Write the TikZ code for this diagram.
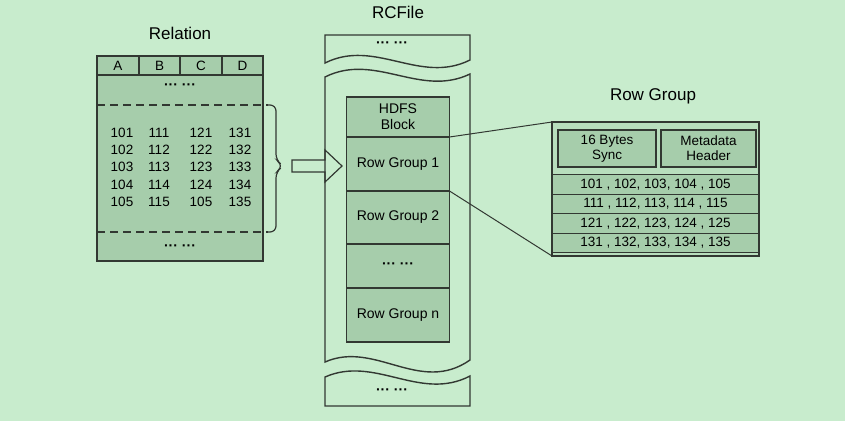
\documentclass[tikz,border=0pt]{standalone}
\usepackage{xcolor}
\usepackage{tikz}
\usepackage{fontspec}
\setmainfont{Liberation Sans}
\usetikzlibrary{positioning}
\definecolor{bggreen}{RGB}{200,236,205}
\definecolor{cellgreen}{RGB}{166,205,171}
\definecolor{panelgreen}{RGB}{184,222,189}
\definecolor{edgegrey}{RGB}{50,56,50}
\newcommand{\rctitle}{\fontsize{17}{20}\selectfont}
\newcommand{\rclabel}{\fontsize{14}{16}\selectfont}
\newcommand{\rcnum}{\fontsize{13.5}{15}\selectfont}

\begin{document}
\begin{tikzpicture}[x=1pt,y=-1pt,
    every node/.style={inner sep=0pt, outer sep=0pt},
    tbl/.style={draw=edgegrey, fill=cellgreen, line width=1.3pt},
    cellbox/.style={draw=edgegrey, fill=cellgreen, line width=1.3pt, minimum width=103pt, align=center, font=\rclabel},
    piece/.style={draw=edgegrey, line width=1.4pt},
    cut/.style={draw=edgegrey, line width=1.4pt, dash pattern=on 8pt off 5pt},
    link/.style={draw=edgegrey, line width=1pt},
    dots/.style={font=\rclabel\bfseries}]
\fill[bggreen] (0,0) rectangle (845,421);
\useasboundingbox (0,0) rectangle (845,421);

% Relation
\node[font=\rctitle] (reltitle) at (180,33) {Relation};
\node[tbl, minimum width=166pt, minimum height=205pt] (rel) at (180,158.5) {};
\draw[tbl] (97,56) rectangle (263,75);
\foreach \x in {139,180,222} \draw[tbl] (\x,56) -- (\x,75);
\foreach \c/\x in {A/118,B/159.5,C/201,D/242.5}
  \node[font=\rcnum] (head\c) at (\x,65.5) {\c};
\node[dots] (reldotsa) at (180,87) {··· ···};
\node[dots] (reldotsb) at (180,248) {··· ···};
\draw[cut] (97,105) -- (268,105);
\draw[cut] (97,232) -- (268,232);
\draw[piece, line width=1.2pt, rounded corners=6pt] (266,105) -- (276,105) -- (276,160)
  -- (283,166) -- (276,172) -- (276,232) -- (266,232);
\foreach \a/\b/\c/\d [count=\i] in {101/111/121/131,102/112/122/132,103/113/123/133,104/114/124/134,105/115/105/135} {
  \node[font=\rcnum] (val\i a) at (122,115.5+\i*17.25) {\a};
  \node[font=\rcnum] (val\i b) at (159,115.5+\i*17.25) {\b};
  \node[font=\rcnum] (val\i c) at (201,115.5+\i*17.25) {\c};
  \node[font=\rcnum] (val\i d) at (240,115.5+\i*17.25) {\d};
}

% arrow
\draw[piece, line width=1.2pt, fill=bggreen] (292,160) -- (325,160) -- (325,150) -- (342,166)
  -- (325,182) -- (325,172) -- (292,172) -- cycle;

% RCFile
\node[font=\rctitle] (rctitle) at (398,12) {RCFile};
\draw[piece] (325,63) -- (325,35) -- (470,35) -- (470,60) .. controls (420,85) and (375,38) .. (325,63) -- cycle;
\draw[piece] (325,77) .. controls (375,52) and (420,98) .. (470,74) -- (470,360)
  .. controls (420,395) and (375,340) .. (325,362) -- cycle;
\draw[piece] (325,377) .. controls (375,355) and (420,402) .. (470,376) -- (470,406) -- (325,406) -- cycle;
\node[dots] (topdots) at (392,45) {··· ···};
\node[dots] (botdots) at (392,392) {··· ···};

\node[cellbox, minimum height=40pt] (hdfs) at (398,117) {HDFS\\Block};
\node[cellbox, minimum height=54pt, below=0pt of hdfs] (rg1) {Row Group 1};
\node[cellbox, minimum height=53pt, below=0pt of rg1] (rg2) {Row Group 2};
\node[cellbox, minimum height=44pt, below=0pt of rg2, font=\rclabel\bfseries] (rgdots) {··· ···};
\node[cellbox, minimum height=54pt, below=0pt of rgdots] (rgn) {Row Group n};

% Row Group
\node[font=\rctitle] (rgtitle) at (653,96) {Row Group};
\node[draw=edgegrey, fill=panelgreen, line width=1.3pt, minimum width=207pt, minimum height=134pt] (rgbox) at (655.5,189) {};
\node[cellbox, minimum width=98pt, minimum height=37pt, font=\rcnum] (sync) at (607,148.5) {16 Bytes\\Sync};
\node[cellbox, minimum width=95pt, minimum height=37pt, font=\rcnum] (meta) at (708.5,148.5) {Metadata\\Header};
\foreach \r [count=\i] in {{101 , 102, 103, 104 , 105},{111 , 112, 113, 114 , 115},{121 , 122, 123, 124 , 125},{131 , 132, 133, 134 , 135}}
  \node[cellbox, minimum width=207pt, minimum height=19.5pt, font=\rcnum] (col\i) at (655.5,165+\i*19.5) {\r};

\draw[link] (hdfs.south east) -- (rgbox.north west);
\draw[link] (rg1.south east) -- (rgbox.south west);
\end{tikzpicture}
\end{document}
